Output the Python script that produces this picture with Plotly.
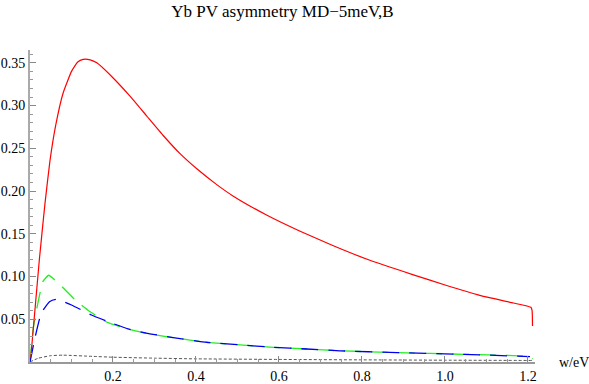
import plotly.graph_objects as go

# Values (w in eV)
red_x = [0.002, 0.0224, 0.036, 0.048, 0.062, 0.080, 0.100, 0.115, 0.128, 0.145, 0.161,
         0.201, 0.241, 0.281, 0.321, 0.361, 0.402, 0.450, 0.490, 0.570, 0.651, 0.731,
         0.819, 0.924, 1.004, 1.084, 1.165, 1.207, 1.210, 1.211]
red_y = [0.006, 0.119, 0.185, 0.235, 0.277, 0.315, 0.340, 0.351, 0.354, 0.3535, 0.350,
         0.332, 0.311, 0.288, 0.265, 0.244, 0.226, 0.2075, 0.194, 0.172, 0.153, 0.136,
         0.119, 0.102, 0.0895, 0.078, 0.069, 0.064, 0.060, 0.042]

green_x = [0.0, 0.008, 0.019, 0.031, 0.045, 0.071, 0.108, 0.144, 0.188, 0.236, 0.280,
           0.345, 0.426, 0.506, 0.586, 0.667, 0.747, 0.884, 1.044, 1.205, 1.211]
green_y = [0.0, 0.040, 0.069, 0.094, 0.1015, 0.091, 0.073, 0.059, 0.046, 0.0386, 0.0336,
           0.0285, 0.0230, 0.0200, 0.0172, 0.0152, 0.0131, 0.0110, 0.0090, 0.0062, 0.0035]

blue_x = [0.0, 0.011, 0.027, 0.047, 0.063, 0.100, 0.148, 0.200, 0.236, 0.280, 0.345,
          0.426, 0.506, 0.586, 0.667, 0.747, 0.884, 1.044, 1.205]
blue_y = [0.0, 0.026, 0.057, 0.0706, 0.0734, 0.0667, 0.055, 0.045, 0.0388, 0.0338, 0.0286,
          0.0231, 0.0200, 0.0172, 0.0152, 0.0131, 0.0110, 0.0090, 0.0063]

gray_x = [0.0, 0.019, 0.050, 0.080, 0.150, 0.200, 0.300, 0.400, 0.600, 0.800, 1.000, 1.211]
gray_y = [0.0, 0.0043, 0.0074, 0.0080, 0.0066, 0.0056, 0.0045, 0.0037, 0.0030, 0.0025,
          0.0021, 0.0018]

x_ticks = [0.2, 0.4, 0.6, 0.8, 1.0, 1.2]
y_ticks = [0.05, 0.10, 0.15, 0.20, 0.25, 0.30, 0.35]

serif = "Liberation Serif, Times New Roman, serif"

fig = go.Figure()
fig.add_trace(go.Scatter(x=gray_x, y=gray_y, mode="lines",
                         line=dict(color="#555555", width=1, dash="3px,2px", shape="spline", smoothing=0.4)))
fig.add_trace(go.Scatter(x=green_x, y=green_y, mode="lines",
                         line=dict(color="#22ee22", width=1.3, dash="17px,10px", shape="spline", smoothing=0.4)))
fig.add_trace(go.Scatter(x=blue_x, y=blue_y, mode="lines",
                         line=dict(color="#0000ee", width=1.3, dash="17px,10px", shape="spline", smoothing=0.4)))
fig.add_trace(go.Scatter(x=red_x, y=red_y, mode="lines",
                         line=dict(color="#ff0000", width=1.2, shape="spline", smoothing=0.4)))

fig.update_layout(
    width=589, height=384,
    margin=dict(l=30, r=54, t=50, b=22),
    paper_bgcolor="white", plot_bgcolor="white",
    showlegend=False,
    font=dict(family=serif, size=14, color="black"),
    title=dict(text="Yb PV asymmetry MD\u22125meV,B", x=0.5, xref="paper",
               y=1 - 11 / 384, yref="container", yanchor="middle",
               font=dict(family=serif, size=17, color="black")),
    xaxis=dict(range=[0, 1.217], showgrid=False, zeroline=False, automargin=False,
               showline=True, linecolor="#999999", linewidth=1.5,
               tickvals=x_ticks, ticktext=[f"{v:.1f}" for v in x_ticks],
               ticks="inside", ticklen=6, tickcolor="#888888", tickwidth=1,
               minor=dict(dtick=0.05, tick0=0, ticks="inside", ticklen=3, tickcolor="#999999")),
    yaxis=dict(range=[0, 0.365], showgrid=False, zeroline=False, automargin=False,
               showline=True, linecolor="#aaaaaa", linewidth=2,
               tickvals=y_ticks, ticktext=[f"{v:.2f}" for v in y_ticks],
               ticks="inside", ticklen=6, tickcolor="#888888", tickwidth=1,
               minor=dict(dtick=0.01, tick0=0, ticks="inside", ticklen=3, tickcolor="#999999")),
    annotations=[dict(text="w/eV", xref="paper", yref="paper", x=1.044, y=0,
                      xanchor="left", yanchor="middle", showarrow=False,
                      font=dict(family=serif, size=14, color="black"))],
)

# drop the browser's default 8px page margin so the figure sits at the window corner
fig.write_html("out.html", config={"displayModeBar": False},
               post_script="document.body.style.margin='0';")
